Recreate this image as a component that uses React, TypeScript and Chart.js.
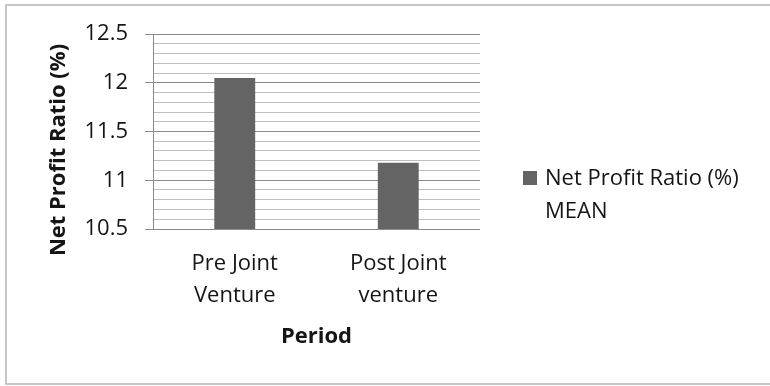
import { useEffect, useRef } from 'react';
import { Chart, registerables } from 'chart.js';

Chart.register(...registerables);

// Periods on the category axis (each entry is drawn on two lines)
const periods: string[][] = [
  ['Pre Joint', 'Venture'],
  ['Post Joint', 'venture'],
];

// Mean net profit ratio (%) for each period
const meanNetProfitRatio: number[] = [12.05, 11.18];

// Series name, wrapped the way the legend shows it
const seriesName: string[] = ['Net Profit Ratio (%)', 'MEAN'];

// Value axis range and gridline spacing
const yMin = 10.5;
const yMax = 12.5;
const minorStep = 0.1;
const majorStep = 0.5;

const xAxisTitle = 'Period';
const yAxisTitle = 'Net Profit Ratio (%)';

const FONT = '"Open Sans", Lato, sans-serif';
const FONT_SIZE = 22;
const BAR_COLOR = '#646464';
const MAJOR_GRID = '#8a8a8a';
const MINOR_GRID = '#bdbdbd';
const TEXT = '#151515';

const isMajor = (v: number) =>
  Math.abs(v / majorStep - Math.round(v / majorStep)) < 1e-6;

// Outer frame around the chart (top, left and bottom edges)
const framePlugin = {
  id: 'frame',
  beforeDraw(chart: Chart) {
    const { ctx } = chart;
    ctx.save();
    ctx.strokeStyle = '#b4b4b4';
    ctx.lineWidth = 1.5;
    ctx.beginPath();
    ctx.moveTo(770, 5);
    ctx.lineTo(6, 5);
    ctx.lineTo(6, 384);
    ctx.lineTo(770, 384);
    ctx.stroke();
    ctx.restore();
  },
};

// Vertical axis title, centred a little below the plot's middle
const yTitlePlugin = {
  id: 'yTitle',
  afterDraw(chart: Chart) {
    const { ctx } = chart;
    ctx.save();
    ctx.translate(65, 150);
    ctx.rotate(-Math.PI / 2);
    ctx.font = `bold ${FONT_SIZE}px ${FONT}`;
    ctx.fillStyle = TEXT;
    ctx.textAlign = 'center';
    ctx.textBaseline = 'alphabetic';
    ctx.fillText(yAxisTitle, 0, 0);
    ctx.restore();
  },
};

// Legend to the right of the plot: swatch plus the wrapped series name
const sideLegendPlugin = {
  id: 'sideLegend',
  afterDraw(chart: Chart) {
    const { ctx } = chart;
    const ds = chart.data.datasets[0];
    const lines = ds.label ? (ds as any).nameLines as string[] : [];
    ctx.save();
    ctx.fillStyle = ds.backgroundColor as string;
    ctx.fillRect(523, 171, 14, 14);
    ctx.font = `${FONT_SIZE}px ${FONT}`;
    ctx.fillStyle = TEXT;
    ctx.textAlign = 'left';
    ctx.textBaseline = 'alphabetic';
    lines.forEach((line, i) => ctx.fillText(line, 545, 185 + i * 33));
    ctx.restore();
  },
};

export default function App() {
  const canvasRef = useRef<HTMLCanvasElement | null>(null);

  useEffect(() => {
    if (!canvasRef.current) return;
    const chart = new Chart(canvasRef.current, {
      type: 'bar',
      data: {
        labels: periods,
        datasets: [
          {
            label: seriesName.join(' '),
            nameLines: seriesName,
            data: meanNetProfitRatio,
            backgroundColor: BAR_COLOR,
            borderWidth: 0,
            categoryPercentage: 1,
            barPercentage: 0.25,
          } as any,
        ],
      },
      options: {
        responsive: false,
        animation: false,
        layout: { padding: { top: 34, right: 290, left: 0, bottom: 0 } },
        plugins: {
          legend: { display: false },
          tooltip: { enabled: false },
        },
        scales: {
          x: {
            grid: { display: false, drawTicks: false },
            border: { display: false },
            ticks: {
              color: TEXT,
              padding: 19,
              font: { family: FONT, size: FONT_SIZE, lineHeight: 32 / FONT_SIZE },
              maxRotation: 0,
              autoSkip: false,
            },
            title: {
              display: true,
              text: xAxisTitle,
              color: TEXT,
              font: { family: FONT, size: FONT_SIZE, weight: 'bold', lineHeight: 1.2 },
              padding: { top: 0, bottom: 36 },
            },
            afterFit(scale: any) {
              scale.height = 157;
            },
          },
          y: {
            min: yMin,
            max: yMax,
            grid: {
              color: (c: any) => (isMajor(c.tick.value) ? MAJOR_GRID : MINOR_GRID),
              tickColor: (c: any) =>
                isMajor(c.tick.value) ? MAJOR_GRID : 'rgba(0,0,0,0)',
              tickLength: 8,
              lineWidth: 1,
            },
            border: { display: true, color: MAJOR_GRID, width: 1 },
            ticks: {
              stepSize: minorStep,
              autoSkip: false,
              color: TEXT,
              padding: 17,
              font: { family: FONT, size: FONT_SIZE },
              callback: (v: any) =>
                isMajor(Number(v)) ? String(Math.round(Number(v) * 10) / 10) : '',
            },
            afterFit(scale: any) {
              scale.width = 153;
            },
          },
        },
      },
      plugins: [framePlugin, yTitlePlugin, sideLegendPlugin],
    });
    return () => chart.destroy();
  }, []);

  return (
    <div
      style={{
        position: 'absolute',
        left: 0,
        top: 0,
        width: 770,
        height: 386,
        background: '#ffffff',
      }}
    >
      <canvas ref={canvasRef} width={770} height={386} />
    </div>
  );
}
